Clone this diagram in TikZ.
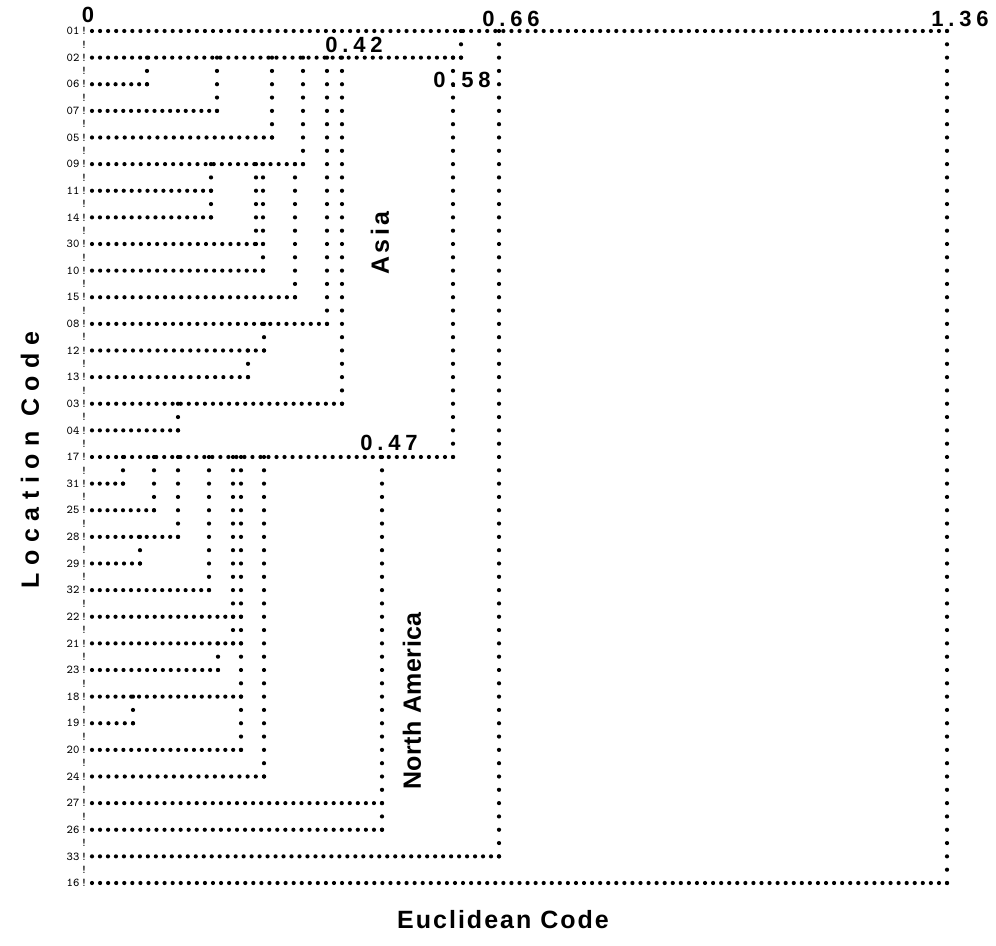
\documentclass[tikz,border=0pt]{standalone}
\usepackage{fontspec}
\usepackage{tikz}
\newfontfamily\labfont{Liberation Sans}

\begin{document}
\begin{tikzpicture}[x=0.5pt,y=-0.5pt,
    hdots/.style={line width=2.1pt,line cap=round,shorten >=-0.3pt},
    vdots/.style={line width=2.1pt,line cap=round,dash pattern=on 0pt off 6.65625pt,shorten >=-0.3pt},
    rowlbl/.style={font={\ttfamily\fontsize{6}{6}\selectfont},inner sep=0pt},
    numlbl/.style={font={\labfont\bfseries\fontsize{11}{11}\selectfont\addfontfeatures{LetterSpace=22}},inner sep=0pt},
    axlbl/.style={font={\labfont\bfseries\fontsize{12.5}{12.5}\selectfont},inner sep=0pt}]

    \useasboundingbox (0,0) rectangle (996,946);

    % Filas: codigo / fin de la linea
    \foreach \lab/\e [count=\i from 0] in {01/947,02/461,06/147,07/217,05/272,09/303,
        11/211,14/211,30/263,10/263,15/295,08/327,12/264,13/248,03/342,04/178,17/453,
        31/123,25/154,28/178,29/140,32/209,22/241,21/241,23/218,18/241,19/133,20/241,
        24/264,27/382,26/382,33/499,16/947}{
        \pgfmathsetmacro\yy{31+26.625*\i}
        \pgfmathsetmacro\gap{(\e-92)/round((\e-92)/8.05)/2}
        \node[rowlbl] (l\lab) at (73,\yy) {\lab};
        \coordinate (r\lab) at (92,\yy);
        \draw[hdots,dash pattern=on 0pt off \gap pt] (r\lab) -- ++({\e-92},0);
    }

    % Columna de signos
    \foreach \h in {0,...,64}
        \node[rowlbl] (bar\h) at (84,{31+13.3125*\h}) {!};

    % Uniones
    \foreach \x/\a/\b in {947/01/16,499/01/33,461/01/02,453/02/17,342/02/03,
        327/02/08,303/02/09,272/02/05,217/02/07,147/02/06,211/09/14,256/09/30,
        263/09/10,295/09/15,264/08/12,248/12/13,178/03/04,382/17/26,264/17/24,
        241/17/20,233/17/21,209/17/32,178/17/28,154/17/25,123/17/31,140/28/29,
        218/21/23,133/18/19}
        \draw[vdots] (r\a -| \x,0) -- (r\b -| \x,0);

    % Distancias
    \node[numlbl] (d0) at (88,15) {0};
    \node[numlbl] (d042) at (354,45) {0.42};
    \node[numlbl] (d066) at (511,19) {0.66};
    \node[numlbl] (d058) at (462,80) {0.58};
    \node[numlbl] (d136) at (960,19) {1.36};
    \node[numlbl] (d047) at (389,443) {0.47};

    % Etiquetas
    \node[axlbl,rotate=90] (asia) at (380,243) {\addfontfeatures{LetterSpace=14}Asia};
    \node[axlbl,rotate=90] (nam) at (412,701) {\addfontfeatures{LetterSpace=2}North America};
    \node[axlbl,rotate=90] (ylab) at (30,460) {\addfontfeatures{LetterSpace=30}Location Code};
    \node[axlbl] (xlab) at (503,920) {\addfontfeatures{LetterSpace=8}Euclidean Code};

\end{tikzpicture}
\end{document}
